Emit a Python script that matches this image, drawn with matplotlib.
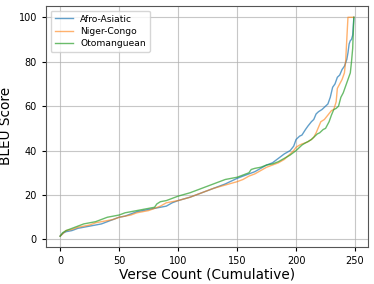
import matplotlib
matplotlib.use("Agg")
import matplotlib.pyplot as plt

# values (verse index, BLEU)
afro_x = [0, 3, 5, 10, 15, 20, 25, 30, 35, 40, 45, 50, 55, 60, 65, 70, 75, 80, 85, 90, 95,
          100, 110, 120, 130, 140, 150, 155, 160, 165, 170, 175, 180, 185, 190, 195,
          198, 200, 203, 205, 208, 210, 213, 215, 217, 219, 222, 225, 227, 229, 231,
          233, 235, 237, 239, 241, 243, 244, 245, 246, 247, 248, 249]
afro_y = [1.5, 3.0, 3.5, 4.0, 5.0, 5.5, 6.0, 6.5, 7.0, 8.0, 9.0, 10.0, 10.5, 11.5, 12.5, 13.0,
          13.5, 14.0, 14.5, 15.0, 16.5, 17.5, 19.0, 21.0, 23.0, 25.0, 27.5, 28.5, 29.5, 30.5,
          32.0, 33.5, 34.5, 36.5, 38.5, 40.0, 42.0, 45.0, 46.5, 47.0, 49.5, 51.0, 53.0, 54.0,
          56.5, 57.5, 58.5, 60.0, 61.0, 64.0, 68.5, 70.0, 73.0, 74.0, 76.5, 78.0, 81.0, 84.0,
          88.0, 89.5, 90.0, 92.0, 100.0]

niger_x = [0, 2, 5, 10, 15, 20, 25, 30, 35, 40, 45, 50, 55, 60, 65, 70, 75, 80, 85, 90, 95,
           100, 110, 120, 130, 140, 150, 155, 160, 165, 170, 175, 180, 185, 190, 195,
           198, 200, 203, 205, 208, 210, 213, 215, 217, 219, 221, 224, 227, 230, 232,
           234, 235, 237, 239, 241, 242, 243, 244, 246, 248, 249]
niger_y = [1.5, 2.5, 4.0, 4.5, 5.5, 6.0, 6.5, 7.5, 8.0, 8.5, 9.0, 10.0, 10.5, 11.0, 12.0,
           12.5, 13.0, 14.0, 15.0, 16.5, 17.0, 17.5, 19.0, 21.0, 23.0, 24.5, 26.0, 27.0, 28.5,
           29.5, 31.0, 32.5, 33.5, 34.5, 36.0, 38.5, 40.0, 41.5, 42.5, 43.0, 43.5, 44.0, 45.0,
           46.0, 48.0, 50.5, 53.0, 54.0, 56.0, 58.0, 58.5, 62.0, 68.0, 70.0, 72.0, 75.0, 80.0,
           90.0, 100.0, 100.0, 100.0, 100.0]

oto_x = [0, 2, 5, 10, 15, 20, 25, 30, 35, 40, 45, 50, 55, 60, 65, 70, 75, 80, 82, 85, 90,
         95, 100, 110, 120, 130, 140, 150, 155, 160, 162, 165, 170, 175, 180, 185, 190, 195,
         200, 203, 205, 208, 210, 213, 215, 218, 220, 223, 225, 228, 230, 232, 234, 236,
         238, 240, 242, 244, 245, 246, 247, 248, 249]
oto_y = [1.5, 3.0, 4.0, 5.0, 6.0, 7.0, 7.5, 8.0, 9.0, 10.0, 10.5, 11.0, 12.0, 12.5, 13.0,
         13.5, 14.0, 14.5, 16.0, 17.0, 17.5, 18.5, 19.5, 21.0, 23.0, 25.0, 27.0, 28.0, 29.0,
         30.0, 31.5, 32.0, 32.5, 33.5, 34.0, 35.0, 36.5, 38.0, 40.0, 41.5, 42.5, 43.5, 44.0,
         45.0, 46.0, 47.5, 48.0, 49.5, 50.0, 53.0, 56.0, 58.5, 59.0, 60.0, 64.0, 66.0, 69.0,
         72.0, 73.5, 75.0, 80.0, 86.0, 100.0]

fig = plt.figure(figsize=(3.74, 2.84), dpi=100)
ax = fig.add_axes([0.123, 0.131, 0.861, 0.848])

ax.plot(afro_x, afro_y, color="tab:blue", lw=1.0, alpha=0.7, label="Afro-Asiatic")
ax.plot(niger_x, niger_y, color="tab:orange", lw=1.0, alpha=0.6, label="Niger-Congo")
ax.plot(oto_x, oto_y, color="tab:green", lw=1.0, alpha=0.7, label="Otomanguean")

ax.set_xlim(-12.0, 261)
ax.set_ylim(-3.3, 105.1)
ax.set_xticks([0, 50, 100, 150, 200, 250])
ax.set_yticks([0, 20, 40, 60, 80, 100])
ax.tick_params(labelsize=7, length=3, width=0.8)
ax.grid(True, color="#b0b0b0", lw=0.8, alpha=0.7)
for s in ax.spines.values():
    s.set_color("#555555")

ax.set_xlabel("Verse Count (Cumulative)", fontsize=9.8, labelpad=1)
ax.set_ylabel("BLEU Score", fontsize=9.8, labelpad=4)
ax.legend(loc="upper left", fontsize=6.6, handlelength=2.0, borderpad=0.45, labelspacing=0.35)

fig.savefig("out.png", dpi=100)
